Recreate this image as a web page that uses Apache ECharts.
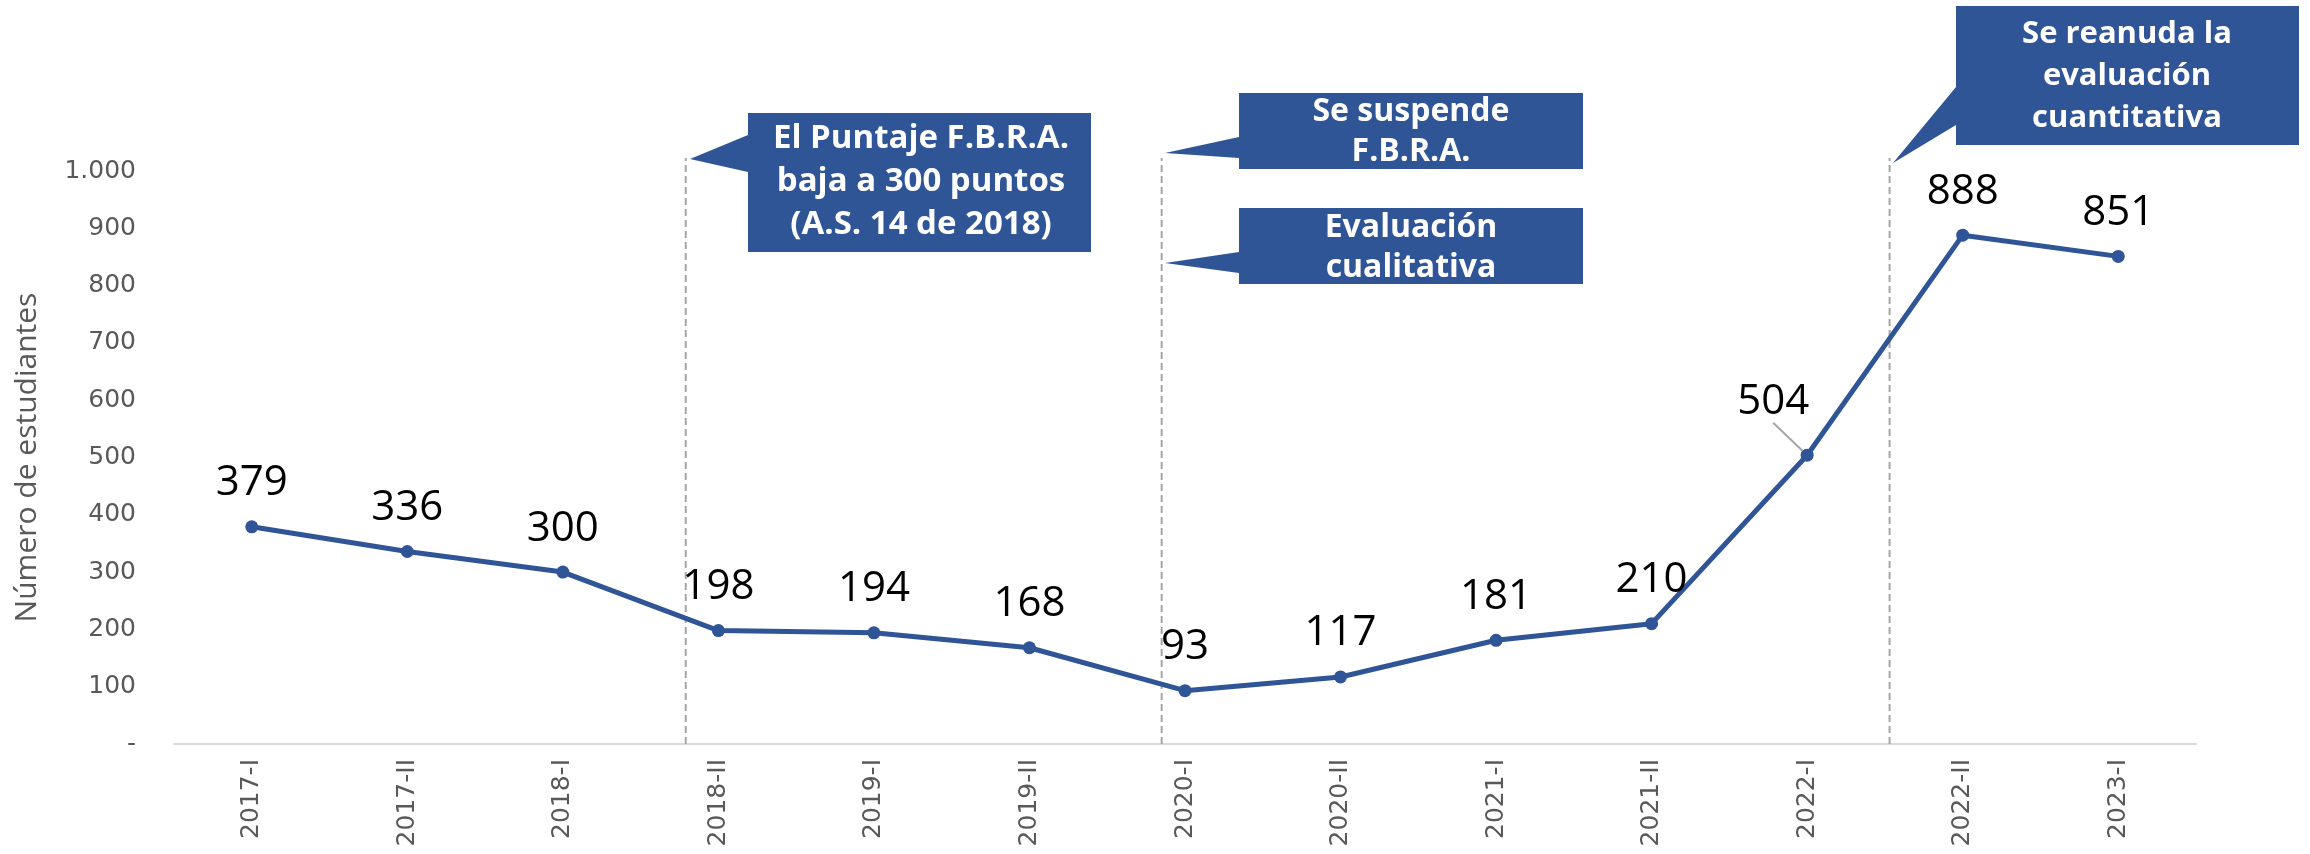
<!DOCTYPE html>
<html>
<head>
<meta charset="utf-8">
<script src="https://cdn.jsdelivr.net/npm/echarts@6/dist/echarts.min.js"></script>
<style>
html,body{margin:0;padding:0;background:#fff;}
#chart{width:2310px;height:854px;}
</style>
</head>
<body>
<div id="chart"></div>
<script>
// ---- data ----
const categories = ['2017-I','2017-II','2018-I','2018-II','2019-I','2019-II','2020-I','2020-II','2021-I','2021-II','2022-I','2022-II','2023-I'];
const students = [379,336,300,198,194,168,93,117,181,210,504,888,851];
const yTickLabels = ['-','100','200','300','400','500','600','700','800','900','1.000'];
const yAxisName = 'Número de estudiantes';
// marker line positions (category index units, fractional)
const eventPositions = [2.79, 5.85, 10.53];
const calloutTexts = [
  'El Puntaje F.B.R.A.\nbaja a 300 puntos\n(A.S. 14 de 2018)',
  'Se suspende\nF.B.R.A.',
  'Evaluación\ncualitativa',
  'Se reanuda la\nevaluación\ncuantitativa'
];

const BLUE = '#2F5597';
const chart = echarts.init(document.getElementById('chart'), null, {renderer:'canvas'});

const movedLabelIndex = categories.indexOf('2022-I');
const seriesData = students.map((v, i) => {
  if (i === movedLabelIndex) {
    return {value: v, label: {padding: [0, 0, 14, 0]},
      labelLine: {show: true, lineStyle: {color: '#A6A6A6', width: 2}}};
  }
  return v;
});

function callout(points, cx, cy, text, lh, fs) {
  return [
    {type: 'polygon', shape: {points: points}, style: {fill: BLUE}, silent: true},
    {type: 'text', x: cx, y: cy, style: {text: text, fill: '#fff', font: 'bold ' + fs + 'px "Open Sans"', align: 'center', verticalAlign: 'middle', lineHeight: lh}, silent: true}
  ];
}

const graphics = [].concat(
  callout([[748,113],[1091,113],[1091,252],[748,252],[748,172],[690,159],[748,135]], 921, 182, calloutTexts[0], 43, 33),
  callout([[1239,93],[1583,93],[1583,169],[1239,169],[1239,158],[1165,153],[1239,137]], 1411, 132, calloutTexts[1], 40, 32),
  callout([[1239,208],[1583,208],[1583,284],[1239,284],[1239,273],[1165,263],[1239,252]], 1411, 248, calloutTexts[2], 40, 32),
  callout([[1956,6],[2299,6],[2299,145],[1956,145],[1956,125],[1893,163],[1956,87]], 2127, 76, calloutTexts[3], 42, 31)
);

const option = {
  animation: false,
  backgroundColor: '#ffffff',
  grid: [
    {left: 174, right: 114, top: 171, bottom: 110},
    {left: 174, right: 114, top: 158, bottom: 110}
  ],
  xAxis: [
    {
      type: 'category', data: categories, gridIndex: 0, boundaryGap: true,
      axisLine: {show: true, lineStyle: {color: '#D9D9D9', width: 2}},
      axisTick: {show: false},
      axisLabel: {rotate: 90, margin: 15, color: '#595959', fontSize: 25, fontFamily: 'DejaVu Sans'},
      splitLine: {show: false}
    },
    {type: 'value', gridIndex: 1, min: -0.5, max: categories.length - 0.5, show: false}
  ],
  yAxis: [
    {
      type: 'value', gridIndex: 0, min: 0, max: 1000, interval: 100,
      name: yAxisName, nameLocation: 'middle', nameGap: 132, nameRotate: 90,
      nameTextStyle: {color: '#595959', fontSize: 30, fontFamily: 'Open Sans'},
      axisLine: {show: false}, axisTick: {show: false},
      splitLine: {show: false},
      axisLabel: {margin: 38, color: '#595959', fontSize: 25, fontFamily: 'DejaVu Sans',
        formatter: v => yTickLabels[Math.round(v / 100)]}
    },
    {type: 'value', gridIndex: 1, min: 0, max: 1, show: false}
  ],
  series: [
    {
      type: 'line', xAxisIndex: 0, yAxisIndex: 0, data: seriesData,
      lineStyle: {color: BLUE, width: 5}, itemStyle: {color: BLUE},
      symbol: 'circle', symbolSize: 13, z: 5,
      label: {show: true, position: 'top', distance: 16, offset: [4, 0], color: '#000', fontSize: 42, fontFamily: 'Open Sans'},
      labelLayout: p => (p.dataIndex === movedLabelIndex ? {dx: -34, dy: 4} : {})
    }
  ].concat(eventPositions.map(p => ({
    type: 'line', xAxisIndex: 1, yAxisIndex: 1, data: [[p, 0], [p, 1]],
    symbol: 'none', lineStyle: {color: '#A6A6A6', width: 2, type: [7, 4]}, z: 1, silent: true
  }))),
  graphic: graphics
};
chart.setOption(option);
</script>
</body>
</html>
